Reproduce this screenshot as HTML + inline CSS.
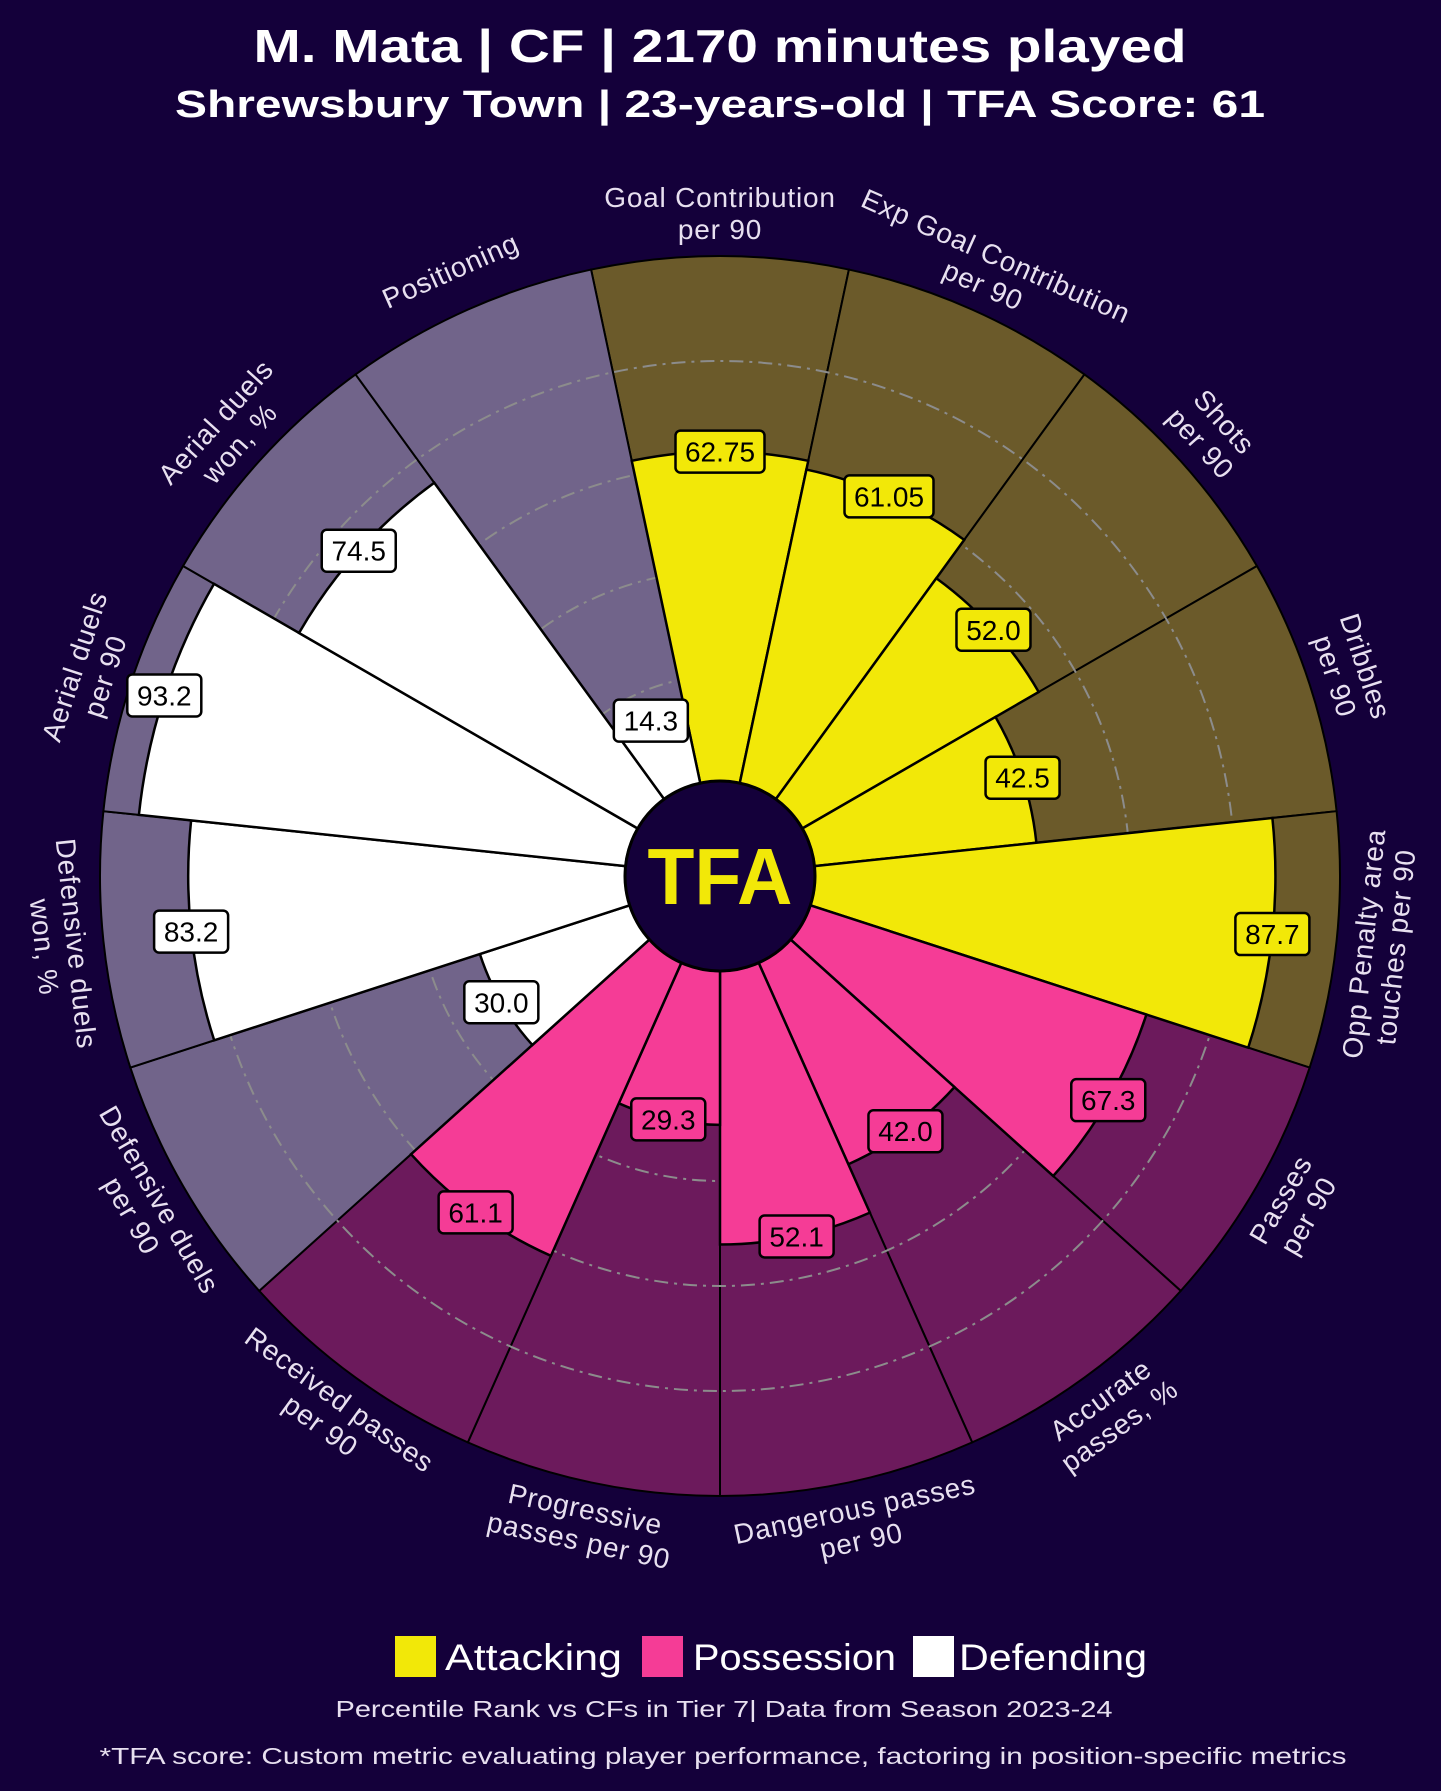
<!DOCTYPE html>
<html><head><meta charset="utf-8">
<style>
html,body{margin:0;padding:0;background:#14003a;}
svg{display:block;font-family:"Liberation Sans",sans-serif;}
</style></head>
<body>
<svg id="s" xmlns="http://www.w3.org/2000/svg" width="1441" height="1791" viewBox="0 0 1441 1791">
<rect width="1441" height="1791" fill="#14003a"/>
<text x="720" y="62" text-anchor="middle" fill="#ffffff" font-weight="bold" font-size="46" textLength="933" lengthAdjust="spacingAndGlyphs">M. Mata | CF | 2170 minutes played</text>
<text x="720" y="117" text-anchor="middle" fill="#ffffff" font-weight="bold" font-size="38" textLength="1090" lengthAdjust="spacingAndGlyphs">Shrewsbury Town | 23-years-old | TFA Score: 61</text>
<g id="chart"></g>
<rect x="395" y="1636" width="41" height="41" fill="#f2e808"/>
<text x="445" y="1670" fill="#ffffff" font-size="37" textLength="177" lengthAdjust="spacingAndGlyphs">Attacking</text>
<rect x="642" y="1636" width="41" height="41" fill="#f53c96"/>
<text x="693" y="1670" fill="#ffffff" font-size="37" textLength="203" lengthAdjust="spacingAndGlyphs">Possession</text>
<rect x="913" y="1636" width="41" height="41" fill="#ffffff"/>
<text x="959" y="1670" fill="#ffffff" font-size="37" textLength="188" lengthAdjust="spacingAndGlyphs">Defending</text>
<text x="724" y="1717" text-anchor="middle" fill="#e8e0f0" font-size="23" textLength="777" lengthAdjust="spacingAndGlyphs">Percentile Rank vs CFs in Tier 7| Data from Season 2023-24</text>
<text x="723" y="1764" text-anchor="middle" fill="#e8e0f0" font-size="23" textLength="1247" lengthAdjust="spacingAndGlyphs">*TFA score: Custom metric evaluating player performance, factoring in position-specific metrics</text>
</svg>
<script>
(function(){
var NS="http://www.w3.org/2000/svg";
var g=document.getElementById("chart");
var cx=720,cy=876,R=620,r0=95,b=5.25;
var Y="#f2e808",Ybg="#6b5a2a",P="#f53c96",Pbg="#6c1a5c",W="#ffffff",Wbg="#71648a";
var d=[
["Goal Contribution|per 90",62.75,"A"],
["Exp Goal Contribution|per 90",61.05,"A"],
["Shots|per 90",52.0,"A"],
["Dribbles|per 90",42.5,"A"],
["Opp Penalty area|touches per 90",87.7,"A"],
["Passes|per 90",67.3,"P"],
["Accurate|passes, %",42.0,"P"],
["Dangerous passes|per 90",52.1,"P"],
["Progressive|passes per 90",29.3,"P"],
["Received passes|per 90",61.1,"P"],
["Defensive duels|per 90",30.0,"D"],
["Defensive duels|won, %",83.2,"D"],
["Aerial duels|per 90",93.2,"D"],
["Aerial duels|won, %",74.5,"D"],
["Positioning",14.3,"D"]];
var vals=["62.75","61.05","52.0","42.5","87.7","67.3","42.0","52.1","29.3","61.1","30.0","83.2","93.2","74.5","14.3"];
function el(n,a,p){var e=document.createElementNS(NS,n);for(var k in a)e.setAttribute(k,a[k]);(p||g).appendChild(e);return e;}
function pt(r,t){var a=t*Math.PI/180;return [cx+r*Math.cos(a),cy-r*Math.sin(a)];}
function wedge(r1,r2,t1,t2){var a=pt(r2,t2),b2=pt(r2,t1),c=pt(r1,t1),e=pt(r1,t2);
return "M"+a[0]+","+a[1]+" A"+r2+","+r2+" 0 0 1 "+b2[0]+","+b2[1]+" L"+c[0]+","+c[1]+" A"+r1+","+r1+" 0 0 0 "+e[0]+","+e[1]+" Z";}
var bg={A:Ybg,P:Pbg,D:Wbg},fg={A:Y,P:P,D:W};
d.forEach(function(x,i){var t=90-24*i;el("path",{d:wedge(r0,R,t-12,t+12),fill:bg[x[2]],stroke:"#000","stroke-width":2});});
[20,40,60,80].forEach(function(v){el("circle",{cx:cx,cy:cy,r:r0+b*v,fill:"none",stroke:"#8c8c8c","stroke-width":2,"stroke-dasharray":"14,6,3,6"});});
d.forEach(function(x,i){var t=90-24*i;el("path",{d:wedge(r0,r0+b*x[1],t-12,t+12),fill:fg[x[2]],stroke:"#000","stroke-width":2.5});});
el("circle",{cx:cx,cy:cy,r:r0,fill:"#14003a",stroke:"#000","stroke-width":3});
var tf=el("text",{x:cx,y:cy+28,"text-anchor":"middle",fill:Y,"font-weight":"bold","font-size":80,textLength:145,lengthAdjust:"spacingAndGlyphs"});tf.textContent="TFA";
d.forEach(function(x,i){var t=90-24*i;var p=pt(r0+b*x[1],t);
var w=vals[i].length*15+14,h=42;
el("rect",{x:p[0]-w/2,y:p[1]-h/2,width:w,height:h,rx:5,fill:fg[x[2]],stroke:"#000","stroke-width":2.5});
var tx=el("text",{x:p[0],y:p[1]+10,"text-anchor":"middle",fill:"#000","font-size":28});tx.textContent=vals[i];});
d.forEach(function(x,i){var t=90-24*i;while(t<=-180)t+=360;while(t>180)t-=360;
var rot=(t>0&&t<=180)?(90-t):-(t+90);
var p=pt(663,t);var lines=x[0].split("|");var lh=32;
var tx=el("text",{x:p[0],y:p[1],"text-anchor":"middle",fill:"#e8e0f0","font-size":28,"letter-spacing":"0.8",transform:"rotate("+rot+" "+p[0]+" "+p[1]+")"});
lines.forEach(function(l,j){var ts=el("tspan",{x:p[0],y:p[1]+(j-(lines.length-1)/2)*lh+10},tx);ts.textContent=l;});});
})();
</script>
</body></html>
